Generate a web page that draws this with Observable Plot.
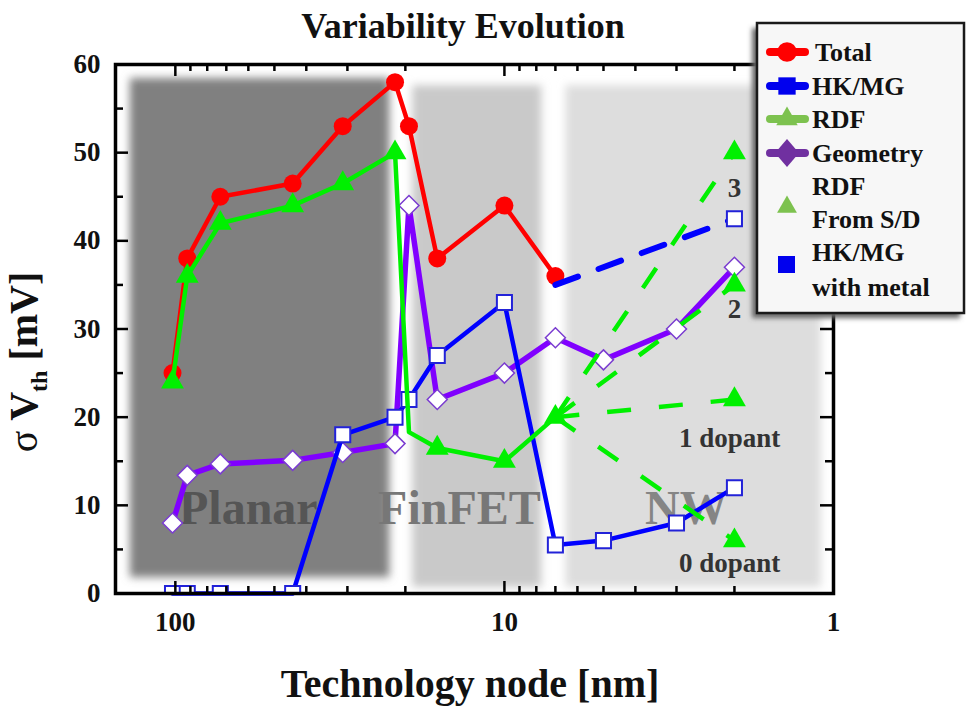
<!DOCTYPE html>
<html>
<head>
<meta charset="utf-8">
<script src="https://cdn.jsdelivr.net/npm/d3@7"></script>
<script src="https://cdn.jsdelivr.net/npm/@observablehq/plot@0.6"></script>
<style>
  html, body { margin: 0; padding: 0; background: #fff; }
  #wrap { position: relative; width: 967px; height: 708px; overflow: hidden; }
  #wrap > svg { position: absolute; left: 0; top: 0; }
  #overlay { pointer-events: none; }
</style>
</head>
<body>
<div id="wrap"></div>
<script>
// ---------------- data ----------------
const nodes = [102, 92, 73, 44, 31, 21.5, 19.5, 16, 10, 7, 5, 3, 2];

const totalNodes  = [102, 92, 73, 44, 31, 21.5, 19.5, 16, 10, 7];
const totalValues = [25, 38, 45, 46.5, 53, 58, 53, 38, 44, 36];

const hkmgNodes  = nodes;
const hkmgValues = [0, 0, 0, 0, 18, 20, 22, 27, 33, 5.5, 6, 8, 12];

const rdfNodes  = [102, 92, 73, 44, 31, 21.5, 19.5, 16, 10, 7];
const rdfValues = [24, 36, 42, 44, 46.5, 50, 18.3, 16.5, 15, 20];

const geometryNodes  = nodes;
const geometryValues = [8, 13.4, 14.7, 15.1, 16, 17, 44, 22, 25, 29, 26.5, 30, 37];

const metalNodes  = [7, 2];
const metalValues = [35, 42.5];

const sdOriginNode = 7, sdOriginValue = 20, sdTargetNode = 2;
const sdTargetValues = [50, 35, 22, 6];
const sdLabels       = ["3", "2", "1 dopant", "0 dopant"];
const sdLabelNodes   = [2, 2, 2.07, 2.07];
const sdLabelValues  = [46, 32.2, 17.6, 3.4];

const regions       = ["Planar", "FinFET", "NW"];
const regionFrom    = [137, 19, 6.5];
const regionTo      = [22.3, 7.7, 1.09];
const regionBottom  = [1.8, 0.7, 0.7];
const regionTop     = [58.4, 57.6, 57.6];
const regionLabelNodes  = [60, 13.7, 2.8];
const regionLabelValues = [9.6, 9.6, 9.6];

const xTickLabels = [100, 10, 1];
const xMinorTicks = [90, 80, 70, 60, 50, 40, 30, 20, 9, 8, 7, 6, 5, 4, 3, 2];
const yTickLabels = [0, 10, 20, 30, 40, 50, 60];
const yMinorTicks = [5, 15, 25, 35, 45, 55];

const legendNames = ["Total", "HK/MG", "RDF", "Geometry"];

// ---------------- layout / style ----------------
const W = 967, H = 708, mL = 115, mR = 134, mT = 64, mB = 115;
const pw = W - mL - mR, ph = H - mT - mB;
const FONT = "'Liberation Serif', 'Times New Roman', serif";
const RED = "#ff0000", BLUE = "#0000ff", GREEN = "#00f000", PURPLE = "#8000ff";
const regionFills = ["#808080", "#c9c9c9", "#dddddd"];
const regionTextFills = ["#555555", "#777777", "#858585"];

const tbl = (xs, ys) => xs.map((x, i) => ({node: x, value: ys[i]}));
const total = tbl(totalNodes, totalValues);
const hkmg = tbl(hkmgNodes, hkmgValues);
const rdf = tbl(rdfNodes, rdfValues);
const geometry = tbl(geometryNodes, geometryValues);
const metal = tbl(metalNodes, metalValues);

const chart = Plot.plot({
  width: W, height: H,
  marginLeft: mL, marginRight: mR, marginTop: mT, marginBottom: mB,
  style: {fontFamily: FONT, fontWeight: "bold", fontSize: "27px", color: "#111", background: "white", overflow: "visible"},
  x: {type: "log", domain: [152, 1], axis: null},
  y: {domain: [0, 60], axis: null},
  marks: [
    ...regions.map((r, i) => Plot.rect([r], {
      x1: () => regionFrom[i], x2: () => regionTo[i],
      y1: () => regionBottom[i], y2: () => regionTop[i],
      fill: regionFills[i]
    })),
    ...regions.map((r, i) => Plot.text([r], {
      x: () => regionLabelNodes[i], y: () => regionLabelValues[i], text: d => d,
      fontSize: 48, fontWeight: "bold", fontFamily: FONT, fill: regionTextFills[i]
    })),
    // Total
    Plot.line(total, {x: "node", y: "value", stroke: RED, strokeWidth: 4.5}),
    Plot.dot(total, {x: "node", y: "value", r: 9, fill: RED, symbol: "circle"}),
    // Geometry
    Plot.line(geometry, {x: "node", y: "value", stroke: PURPLE, strokeWidth: 5.5}),
    Plot.dot(geometry, {x: "node", y: "value", r: 9, symbol: "diamond2", fill: "white", stroke: "#7a3cd0", strokeWidth: 1.5}),
    // HK/MG
    Plot.line(hkmg, {x: "node", y: "value", stroke: BLUE, strokeWidth: 4.5}),
    Plot.dot(hkmg, {x: "node", y: "value", r: 8.5, symbol: "square", fill: "white", stroke: "#2222d8", strokeWidth: 2, clip: true}),
    // RDF
    Plot.line(rdf, {x: "node", y: "value", stroke: GREEN, strokeWidth: 4.5}),
    Plot.dot(rdf, {x: "node", y: "value", r: 8.5, symbol: "triangle", fill: GREEN, filter: (d, i) => i !== 6}),
    // RDF from S/D (dashed)
    Plot.link(sdTargetValues, {
      x1: () => sdOriginNode, y1: () => sdOriginValue, x2: () => sdTargetNode, y2: d => d,
      stroke: GREEN, strokeWidth: 4.5, strokeDasharray: "24,28"
    }),
    Plot.dot(sdTargetValues, {x: () => sdTargetNode, y: d => d, r: 8.5, symbol: "triangle", fill: GREEN}),
    Plot.text(sdLabels, {
      x: (d, i) => sdLabelNodes[i], y: (d, i) => sdLabelValues[i], text: d => d,
      fontSize: 27, fontWeight: "bold", fontFamily: FONT, fill: "#333"
    }),
    // HK/MG with metal (dashed)
    Plot.line(metal, {x: "node", y: "value", stroke: BLUE, strokeWidth: 6, strokeDasharray: "24,22"}),
    Plot.dot(metal.slice(1), {x: "node", y: "value", r: 8.5, symbol: "square", fill: "white", stroke: "#2222d8", strokeWidth: 2}),
    // inward ticks
    Plot.tickX(xTickLabels, {x: d => d, insetTop: ph - 12, stroke: "#000", strokeWidth: 2.5}),
    Plot.tickX(xTickLabels, {x: d => d, insetBottom: ph - 12, stroke: "#000", strokeWidth: 2.5}),
    Plot.tickX(xMinorTicks, {x: d => d, insetTop: ph - 7, stroke: "#000", strokeWidth: 2.5}),
    Plot.tickX(xMinorTicks, {x: d => d, insetBottom: ph - 7, stroke: "#000", strokeWidth: 2.5}),
    Plot.tickY(yTickLabels, {y: d => d, insetRight: pw - 13, stroke: "#000", strokeWidth: 2.5}),
    Plot.tickY(yTickLabels, {y: d => d, insetLeft: pw - 13, stroke: "#000", strokeWidth: 2.5}),
    Plot.tickY(yMinorTicks, {y: d => d, insetRight: pw - 8, stroke: "#000", strokeWidth: 2.5}),
    Plot.tickY(yMinorTicks, {y: d => d, insetLeft: pw - 8, stroke: "#000", strokeWidth: 2.5}),
    // axes labels
    Plot.axisX(xTickLabels, {anchor: "bottom", tickSize: 0, tickPadding: 18, label: null, tickFormat: d => String(d), fontSize: 27, fontWeight: "bold", fill: "#111"}),
    Plot.axisY(yTickLabels, {anchor: "left", tickSize: 0, tickPadding: 15, label: null, tickFormat: d => String(d), fontSize: 27, fontWeight: "bold", fill: "#111"}),
    Plot.frame({stroke: "#000", strokeWidth: 3.5})
  ]
});

// soften the region edges
const sel = d3.select(chart);
const defs = sel.insert("defs", ":first-child");
defs.append("filter").attr("id", "soft").attr("x", "-10%").attr("y", "-10%").attr("width", "120%").attr("height", "120%")
  .append("feGaussianBlur").attr("stdDeviation", 4);
sel.selectAll('g[aria-label="rect"]').attr("filter", "url(#soft)");

const wrap = document.getElementById("wrap");
wrap.appendChild(chart);

// ---------------- overlay: title, axis titles, legend ----------------
const ov = d3.select(wrap).append("svg").attr("id", "overlay")
  .attr("width", W).attr("height", H)
  .style("font-family", FONT).style("font-weight", "bold").style("fill", "#111");

ov.append("text").attr("x", 463).attr("y", 38).attr("text-anchor", "middle")
  .attr("font-size", 36).text("Variability Evolution");

ov.append("text").attr("x", 470).attr("y", 697).attr("text-anchor", "middle")
  .attr("font-size", 40).text("Technology node [nm]");

const yl = ov.append("text").attr("transform", "translate(37,362) rotate(-90)")
  .attr("text-anchor", "middle").attr("font-size", 40);
yl.append("tspan").attr("font-weight", "normal").text("σ ");
yl.append("tspan").text("V");
yl.append("tspan").attr("font-size", 24).attr("dy", 10).text("th");
yl.append("tspan").attr("dy", -10).text(" [mV]");

// legend
const lg = ov.append("g");
const lf = lg.append("defs").append("filter").attr("id", "shadow").attr("x", "-20%").attr("y", "-20%").attr("width", "140%").attr("height", "140%");
lf.append("feGaussianBlur").attr("stdDeviation", 2.5);
lg.append("rect").attr("x", 752).attr("y", 28).attr("width", 208).attr("height", 290).attr("fill", "#666").attr("filter", "url(#shadow)");
lg.append("rect").attr("x", 757).attr("y", 23).attr("width", 207).attr("height", 290)
  .attr("fill", "#f7f7f7").attr("stroke", "#1a1a1a").attr("stroke-width", 2.5);

const legColors = ["#ff0000", "#0000ee", "#7dc24f", "#7030a0"];
const legY = [52, 86, 119, 153];
const legTextY = [61, 95, 128, 162];
const sym = {
  circle: d3.symbol(d3.symbolCircle, 300)(),
  square: d3.symbol(d3.symbolSquare, 300)(),
  triangle: d3.symbol(d3.symbolTriangle, 200)(),
  diamond: "M0,-14L12,0L0,14L-12,0Z"
};
const legSyms = ["circle", "square", "triangle", "diamond"];
legendNames.forEach((name, i) => {
  lg.append("line").attr("x1", 770).attr("x2", 805).attr("y1", legY[i]).attr("y2", legY[i])
    .attr("stroke", legColors[i]).attr("stroke-width", 8).attr("stroke-linecap", "round");
  lg.append("path").attr("d", sym[legSyms[i]]).attr("transform", `translate(787,${legY[i]})`).attr("fill", legColors[i]);
  lg.append("text").attr("x", i === 0 ? 815 : 812).attr("y", legTextY[i]).attr("font-size", 26).text(name);
});
lg.append("path").attr("d", d3.symbol(d3.symbolTriangle, 170)()).attr("transform", "translate(787,207)").attr("fill", "#7dc24f");
lg.append("text").attr("x", 812).attr("y", 195).attr("font-size", 26).text("RDF");
lg.append("text").attr("x", 812).attr("y", 228).attr("font-size", 26).text("From S/D");
lg.append("rect").attr("x", 778).attr("y", 256).attr("width", 17).attr("height", 17).attr("fill", "#0000ee");
lg.append("text").attr("x", 812).attr("y", 261).attr("font-size", 26).text("HK/MG");
lg.append("text").attr("x", 812).attr("y", 296).attr("font-size", 26).text("with metal");
</script>
</body>
</html>
